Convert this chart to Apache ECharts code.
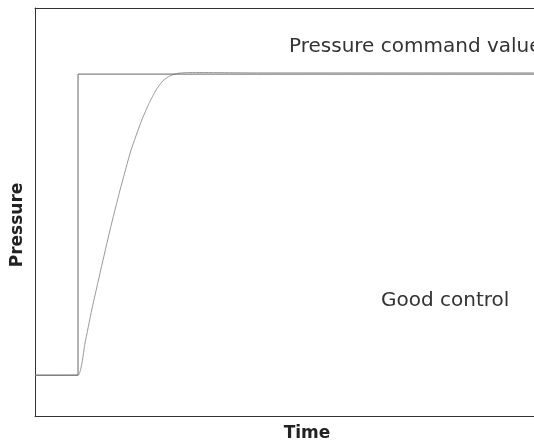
<!DOCTYPE html>
<html>
<head>
<meta charset="utf-8">
<style>
  html, body { margin: 0; padding: 0; background: #fff; }
  #chart { width: 534px; height: 447px; }
</style>
<script src="https://cdn.jsdelivr.net/npm/echarts@6/dist/echarts.min.js"></script>
</head>
<body>
<div id="chart"></div>
<script>
// Pressure command: a step from the base level to the set value
const commandTime = [0, 1, 1, 11.6];
const commandPressure = [10, 10, 83.8, 83.8];

// Measured pressure response (good control)
const responseTime = [0, 1.0, 1.163, 1.319, 1.528, 1.744, 1.977, 2.233, 2.481, 2.65, 2.814, 2.977, 3.14, 3.326, 3.6, 5.2, 11.6];
const responsePressure = [10, 10.05, 17.9, 26.0, 35.8, 45.6, 55.4, 65.2, 72.5, 76.6, 79.9, 82.2, 83.4, 84.0, 84.2, 84.1, 84.1];

const axisTitles = { x: 'Time', y: 'Pressure' };
const annotations = ['Pressure command value', 'Good control'];

const zip = (a, b) => a.map((v, i) => [v, b[i]]);

const chart = echarts.init(document.getElementById('chart'), null, { renderer: 'canvas' });
const titleFont = '"DejaVu Sans", "Noto Sans", sans-serif';
const noteFont = '"DejaVu Sans", "Noto Sans", sans-serif';

chart.setOption({
  animation: false,
  backgroundColor: '#fff',
  grid: { left: 35, top: 8, right: 0, bottom: 31, show: false },
  xAxis: [
    {
      type: 'value', min: 0, max: 11.6, position: 'bottom',
      name: axisTitles.x, nameLocation: 'middle', nameGap: 9,
      nameTextStyle: {
        fontFamily: titleFont, fontWeight: 'bold', fontSize: 17, color: '#222',
        padding: [0, 0, 0, 45]
      },
      axisLine: { show: true, onZero: false, lineStyle: { color: '#333', width: 1 } },
      axisTick: { show: false }, axisLabel: { show: false }, splitLine: { show: false }
    },
    {
      type: 'value', min: 0, max: 11.6, position: 'top',
      axisLine: { show: true, onZero: false, lineStyle: { color: '#333', width: 1 } },
      axisTick: { show: false }, axisLabel: { show: false }, splitLine: { show: false }
    }
  ],
  yAxis: {
    type: 'value', min: 0, max: 100,
    name: axisTitles.y, nameLocation: 'middle', nameGap: 9,
    nameTextStyle: {
      fontFamily: titleFont, fontWeight: 'bold', fontSize: 17, color: '#222',
      padding: [0, 26, 0, 0]
    },
    axisLine: { show: true, onZero: false, lineStyle: { color: '#333', width: 1 } },
    axisTick: { show: false }, axisLabel: { show: false }, splitLine: { show: false }
  },
  series: [
    {
      type: 'line', data: zip(responseTime, responsePressure),
      smooth: 0.15, showSymbol: false,
      lineStyle: { color: '#999', width: 1 }
    },
    {
      type: 'line', data: zip(commandTime, commandPressure),
      showSymbol: false,
      lineStyle: { color: '#666', width: 1 }
    }
  ],
  graphic: [
    {
      type: 'text', left: 289, top: 37,
      style: { text: annotations[0], font: '20px ' + noteFont, fill: '#333' }
    },
    {
      type: 'text', left: 381, top: 291,
      style: { text: annotations[1], font: '20px ' + noteFont, fill: '#333' }
    }
  ]
});
</script>
</body>
</html>
